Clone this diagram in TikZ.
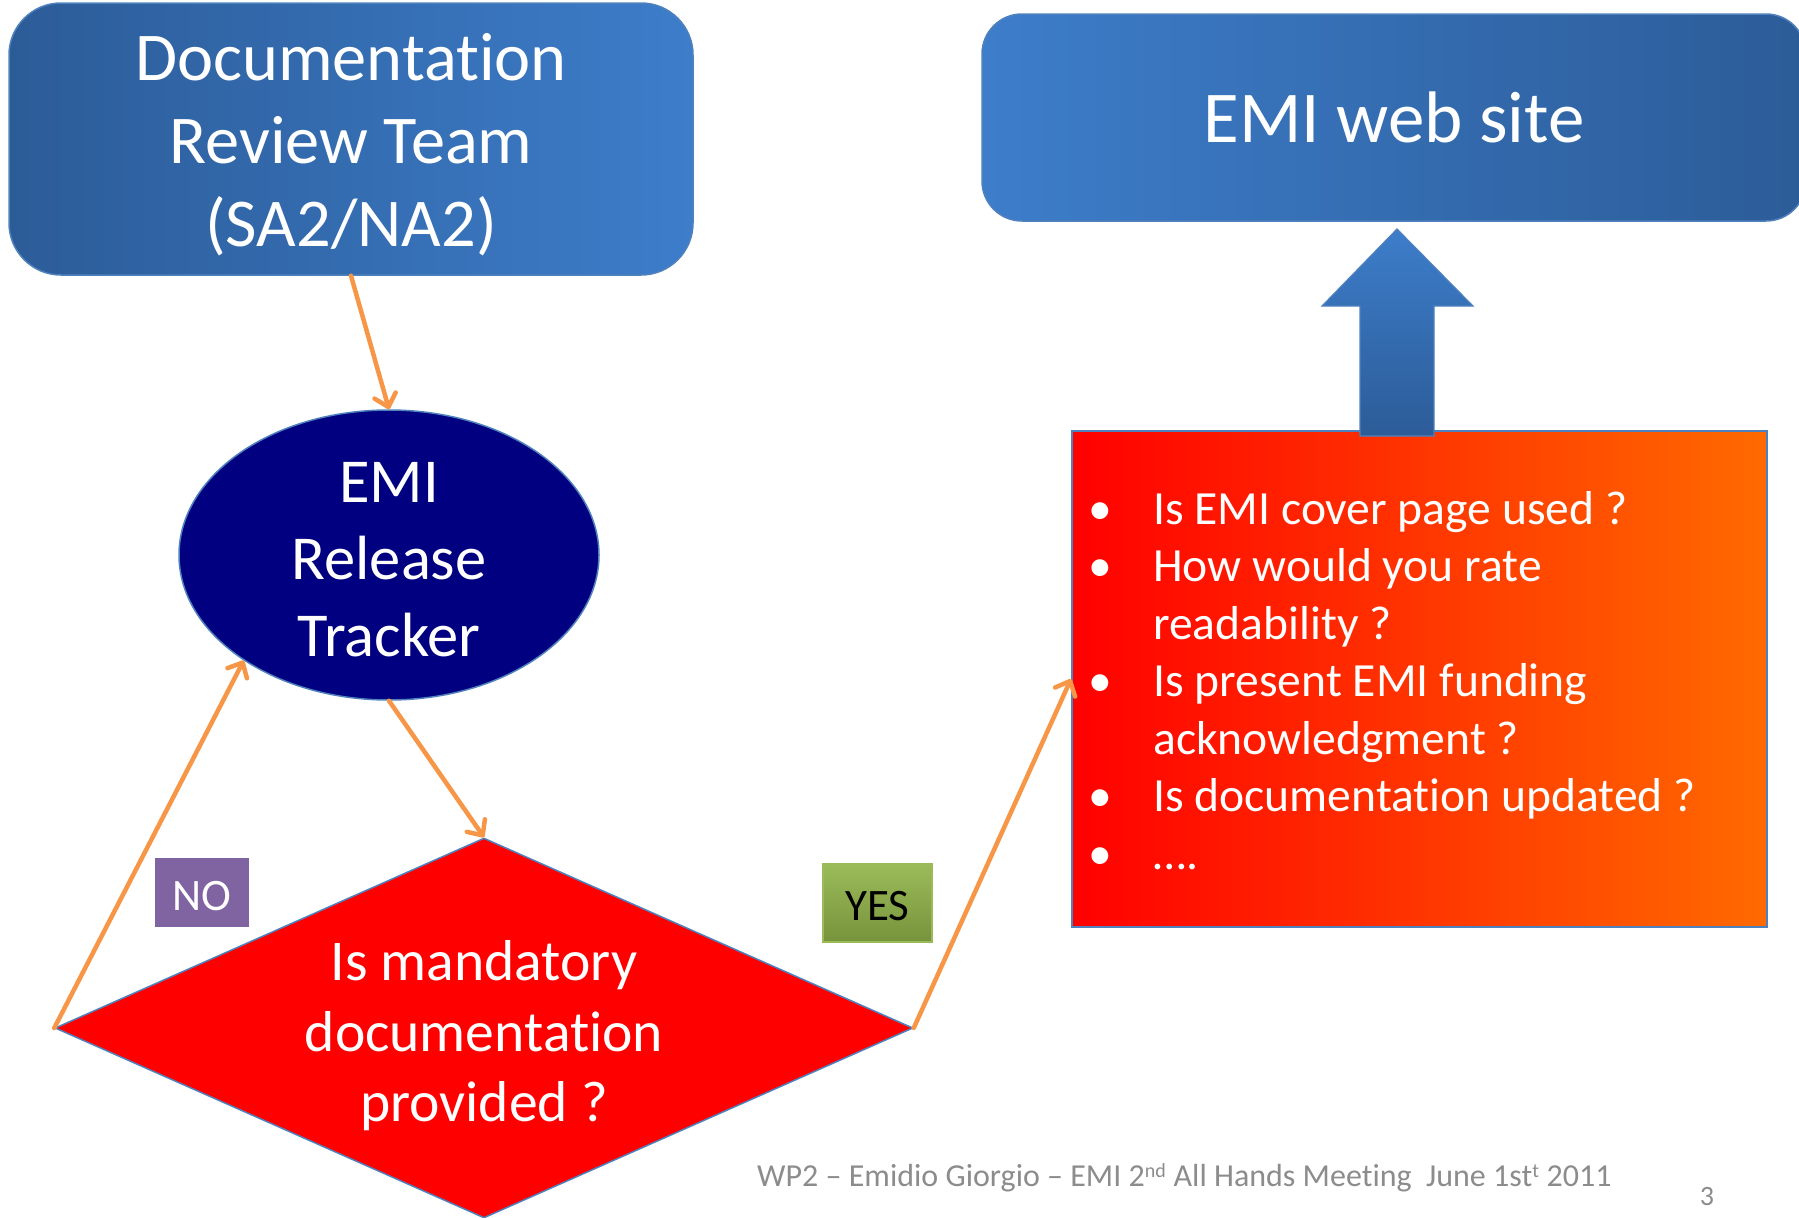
\documentclass[tikz,border=0pt]{standalone}
\usepackage{fontspec}
\setmainfont{Carlito}[Ligatures=NoCommon]
\usetikzlibrary{shapes.geometric,arrows.meta}
\definecolor{blueDark}{HTML}{2C5C98}
\definecolor{blueLight}{HTML}{3D7DCA}
\definecolor{edgeblue}{HTML}{4F81BD}
\definecolor{flow}{HTML}{F79646}
\definecolor{emiNavy}{HTML}{000080}
\definecolor{nopurple}{HTML}{8064A2}
\definecolor{yesTop}{HTML}{9BBB59}
\definecolor{yesBot}{HTML}{77933C}
\definecolor{footgray}{HTML}{8C8C8C}
\definecolor{orangeR}{HTML}{FF6A00}
\tikzset{
  flowarrow/.style={draw=flow, line width=4.5pt, line cap=round,
    -{Straight Barb[length=12pt,width=22pt,line width=4.5pt,round]}},
  bluebox/.style={draw=edgeblue, line width=1.5pt, rounded corners=#1,
    shading=axis, text=white, align=center, inner sep=0pt},
  tag/.style={inner sep=0pt, font=\fontsize{45}{54}\selectfont},
}
\begin{document}
\begin{tikzpicture}[x=1pt,y=-1pt]
\useasboundingbox (0,0) rectangle (1799,1218);
\clip (0,0) rectangle (1799,1218);
% top-left box
\node[bluebox=52pt, left color=blueDark, right color=blueLight,
  minimum width=684pt, minimum height=272pt] (drt) at (351,139) {};
\node[text=white, align=center, inner sep=0pt,
  font=\fontsize{68.4}{83}\selectfont] (drtlabel) at (351,145)
  {Documentation\\Review Team\\(SA2/NA2)};
% web site box
\node[bluebox=40pt, left color=blueLight, right color=blueDark,
  minimum width=824pt, minimum height=207pt,
  font=\fontsize{73}{88}\selectfont] (web) at (1394,117.5) {EMI web site};
% ellipse
\node[ellipse, draw=edgeblue, line width=1.5pt, fill=emiNavy,
  minimum width=420pt, minimum height=290pt, inner sep=0pt] (ert) at (389,555) {};
\node[text=white, align=center, inner sep=0pt,
  font=\fontsize{62.5}{77}\selectfont] (ertlabel) at (389,560)
  {EMI\\Release\\Tracker};
% diamond
\node[diamond, draw=edgeblue, line width=1.5pt, fill=red,
  minimum width=858pt, minimum height=380pt, aspect=2.26, inner sep=0pt]
  (dm) at (484,1028) {};
\node[text=white, align=center, inner sep=0pt,
  font=\fontsize{57.6}{70.5}\selectfont] (dmlabel) at (484,1036)
  {Is mandatory\\documentation\\provided ?};
% checklist box
\node[draw=edgeblue, line width=2pt, shading=axis, left color=red,
  right color=orangeR, minimum width=695pt, minimum height=496pt,
  inner sep=0pt] (chk) at (1419.5,679) {};
\node[anchor=base west, inner sep=0pt, text=white,
  font=\fontsize{47.6}{57.5}\selectfont] (list) at (1100,524) {%
  \begin{tabular}[t]{@{}l@{\hspace{53pt}}l@{}}
  \makebox[0pt]{•} & Is EMI cover page used ?\\
  \makebox[0pt]{•} & How would you rate\\
   & readability ?\\
  \makebox[0pt]{•} & Is present EMI funding\\
   & acknowledgment ?\\
  \makebox[0pt]{•} & Is documentation updated ?\\
  \makebox[0pt]{•} & ….\\
  \end{tabular}};
% block up arrow
\draw[draw=edgeblue, line width=1.2pt, shading=axis, top color=blueLight,
  bottom color=blueDark]
  (1397,229) -- (1473,306) -- (1434,306) -- (1434,436) -- (1360,436)
  -- (1360,306) -- (1322,306) -- cycle;
% tags
\node[fill=nopurple, minimum width=94pt, minimum height=69pt, inner sep=0pt]
  (no) at (202,892.5) {};
\node[tag, text=white] (notext) at (202,896) {NO};
\node[draw=yesTop, line width=2pt, shading=axis, top color=yesTop,
  bottom color=yesBot, minimum width=109pt, minimum height=78pt, inner sep=0pt]
  (yes) at (877.5,903) {};
\node[tag, text=black] (yestext) at (877.5,906.5) {YES};
% connectors
\draw[flowarrow] (drt.south) -- (ert.north);
\draw[flowarrow] (ert.south) -- (dm.north);
\draw[flowarrow] (dm.west) -- (ert.216);
\draw[flowarrow] (dm.east) -- (chk.west);
% footer
\node[anchor=west, inner sep=0pt, text=footgray,
  font=\fontsize{32}{38}\selectfont] (foot) at (757,1178)
  {WP2 – Emidio Giorgio – EMI 2\textsuperscript{\fontsize{20}{24}\selectfont nd} All Hands Meeting\ \ June 1st\textsuperscript{\fontsize{20}{24}\selectfont t} 2011};
\node[inner sep=0pt, text=footgray, font=\fontsize{28}{34}\selectfont]
  (pg) at (1707,1196) {3};
\end{tikzpicture}
\end{document}
